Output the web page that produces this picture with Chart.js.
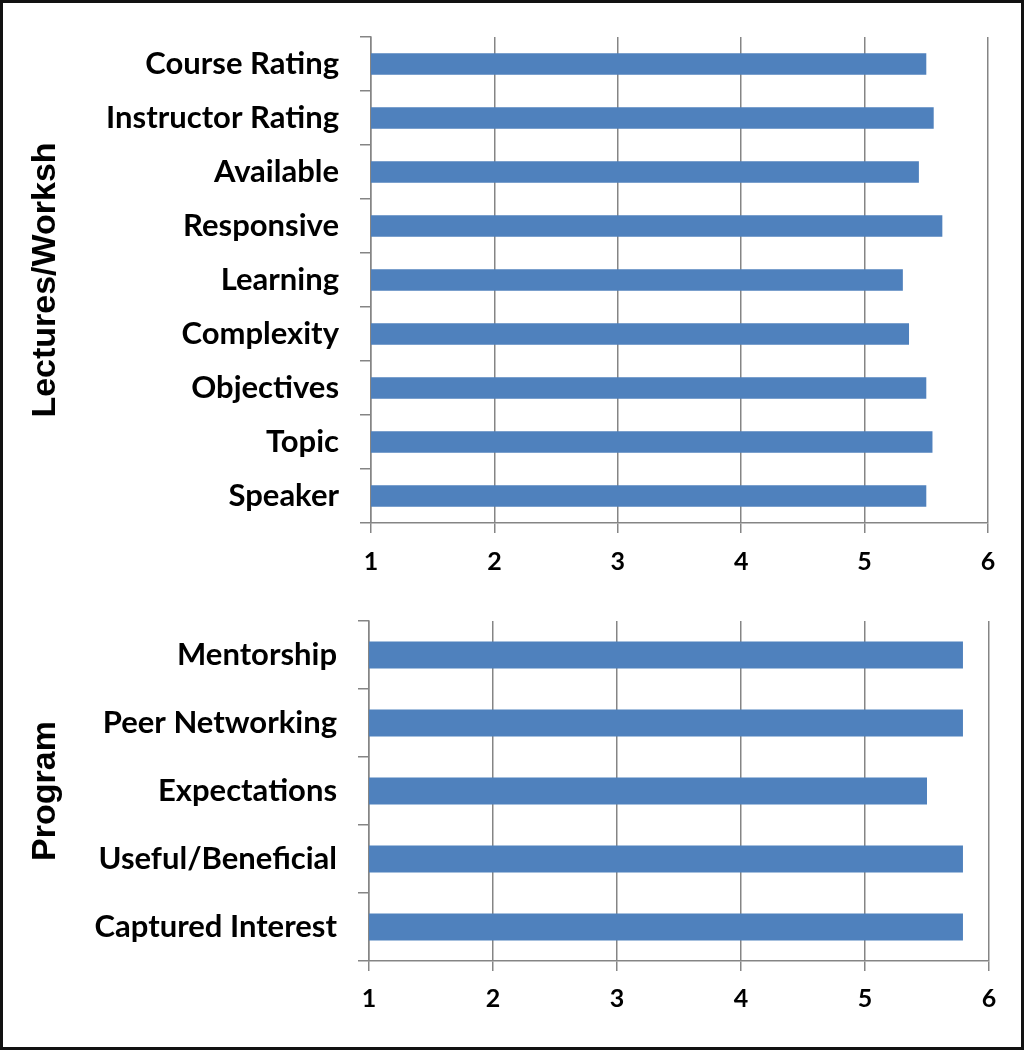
<!DOCTYPE html>
<html>
<head>
<meta charset="utf-8">
<script src="https://cdn.jsdelivr.net/npm/chart.js@4.4.0/dist/chart.umd.min.js"></script>
<style>
    body { margin: 0; background: #fff; }
    canvas { position: absolute; left: 0; }
    #topChart { top: 0; }
    #bottomChart { top: 600px; }
    .frame {
        position: absolute; left: 0; top: 0; width: 1024px; height: 1050px;
        box-sizing: border-box; border: 3px solid #111; pointer-events: none;
    }
</style>
</head>
<body>
<canvas id="topChart" width="1024" height="600"></canvas>
<canvas id="bottomChart" width="1024" height="450"></canvas>
<div class="frame"></div>
<script>
const lectureLabels = ['Course Rating', 'Instructor Rating', 'Available', 'Responsive', 'Learning',
    'Complexity', 'Objectives', 'Topic', 'Speaker'];
const lectureScores = [5.50, 5.56, 5.44, 5.63, 5.31, 5.36, 5.50, 5.55, 5.50];

const programLabels = ['Mentorship', 'Peer Networking', 'Expectations', 'Useful/Beneficial', 'Captured Interest'];
const programScores = [5.79, 5.79, 5.50, 5.79, 5.79];

const scaleTicks = [1, 2, 3, 4, 5, 6];

const barColor = '#4f81bd';
const gridColor = '#858585';

// kill the auto label padding so the plot area lands where the layout says
function noPad(s) {
    s.paddingTop = 0; s.paddingBottom = 0;
    s.paddingLeft = 0; s.paddingRight = 0;
}

function makeChart(id, labels, values, title, opts) {
    return new Chart(document.getElementById(id), {
        type: 'bar',
        data: {
            labels,
            datasets: [{
                data: values,
                backgroundColor: barColor,
                categoryPercentage: 1,
                barPercentage: 0.4,
            }]
        },
        options: {
            indexAxis: 'y',
            responsive: false,
            animation: false,
            layout: { padding: { top: opts.top, right: opts.right, left: 0, bottom: 0 } },
            plugins: { legend: { display: false }, tooltip: { enabled: false } },
            scales: {
                x: {
                    min: scaleTicks[0],
                    max: scaleTicks[scaleTicks.length - 1],
                    afterBuildTicks: s => { s.ticks = scaleTicks.map(v => ({ value: v })); },
                    afterFit: s => { s.height = opts.xHeight; noPad(s); },
                    grid: { color: gridColor, lineWidth: 1.5, tickLength: 10 },
                    border: { color: gridColor, width: 1.5 },
                    ticks: { color: '#000', padding: opts.tickPad, font: { family: 'Lato', weight: 'bold', size: 25 } }
                },
                y: {
                    afterFit: s => { s.width = opts.yWidth; noPad(s); },
                    grid: { drawOnChartArea: false, offset: true, color: gridColor, lineWidth: 1.5, tickLength: 11 },
                    border: { color: gridColor, width: 1.5 },
                    ticks: { color: '#000', padding: 21, font: { family: 'Lato', weight: 'bold', size: 31 } },
                    title: {
                        display: true,
                        text: title,
                        color: '#000',
                        padding: { top: 25, bottom: 0 },
                        font: { family: 'Liberation Sans', weight: 'bold', size: 34 }
                    }
                }
            }
        }
    });
}

makeChart('topChart', lectureLabels, lectureScores, 'Lectures/Worksh',
    { top: 37, right: 36, xHeight: 77, yWidth: 371, tickPad: 14 });
makeChart('bottomChart', programLabels, programScores, 'Program',
    { top: 21, right: 35, xHeight: 89, yWidth: 369, tickPad: 13 });
</script>
</body>
</html>
